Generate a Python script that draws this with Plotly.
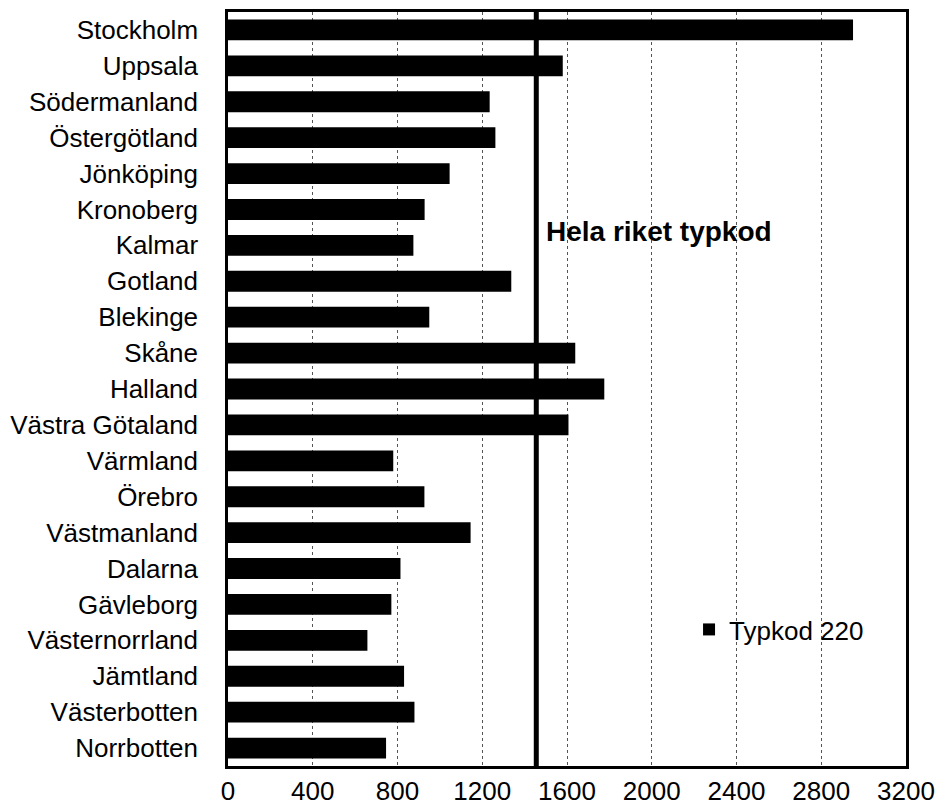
import plotly.graph_objects as go

# Län, top to bottom
lan = [
    "Stockholm", "Uppsala", "Södermanland", "Östergötland", "Jönköping",
    "Kronoberg", "Kalmar", "Gotland", "Blekinge", "Skåne", "Halland",
    "Västra Götaland", "Värmland", "Örebro", "Västmanland", "Dalarna",
    "Gävleborg", "Västernorrland", "Jämtland", "Västerbotten", "Norrbotten",
]
typkod_220 = [
    2950, 1580, 1235, 1262, 1046,
    928, 875, 1337, 950, 1639, 1776,
    1607, 780, 927, 1145, 814,
    771, 658, 831, 880, 746,
]
hela_riket = 1455
x_ticks = [0, 400, 800, 1200, 1600, 2000, 2400, 2800, 3200]

FONT = "Liberation Sans, Arial, sans-serif"

fig = go.Figure()
fig.add_trace(go.Bar(
    y=lan, x=typkod_220, orientation="h",
    name="Typkod 220",
    marker=dict(color="#000000", line=dict(width=0)),
))

# national reference line
fig.add_shape(
    type="line", xref="x", yref="paper",
    x0=hela_riket, x1=hela_riket, y0=0, y1=1,
    line=dict(color="#000000", width=5),
)
fig.add_annotation(
    text="<b>Hela riket typkod</b>",
    xref="x", yref="paper", x=hela_riket + 35, y=0.709,
    xanchor="left", yanchor="middle", showarrow=False,
    font=dict(family=FONT, size=28, color="#000000"),
)

fig.update_layout(
    width=938, height=807,
    margin=dict(l=228, r=32, t=12, b=41),
    paper_bgcolor="#ffffff", plot_bgcolor="#ffffff",
    font=dict(family=FONT, size=26, color="#000000"),
    bargap=0.42,
    showlegend=True,
    legend=dict(
        x=0.68, y=0.181, xanchor="left", yanchor="middle",
        bgcolor="rgba(0,0,0,0)", borderwidth=0,
        font=dict(family=FONT, size=26, color="#000000"),
        itemwidth=30,
    ),
)
fig.update_xaxes(
    range=[0, 3200], tickvals=x_ticks, ticktext=[str(v) for v in x_ticks],
    showgrid=True, gridcolor="#555555", gridwidth=1, griddash="dot",
    showline=True, linecolor="#000000", linewidth=2.5, mirror=True,
    ticks="", ticklabelstandoff=0, zeroline=False, automargin=False,
    tickfont=dict(family=FONT, size=26, color="#000000"),
)
fig.update_yaxes(
    categoryorder="array", categoryarray=lan, autorange="reversed",
    showgrid=False, automargin=False,
    showline=True, linecolor="#000000", linewidth=2.5, mirror=True,
    ticks="", ticklabelstandoff=22,
    tickfont=dict(family=FONT, size=26, color="#000000"),
)

fig.write_html("out.html")
